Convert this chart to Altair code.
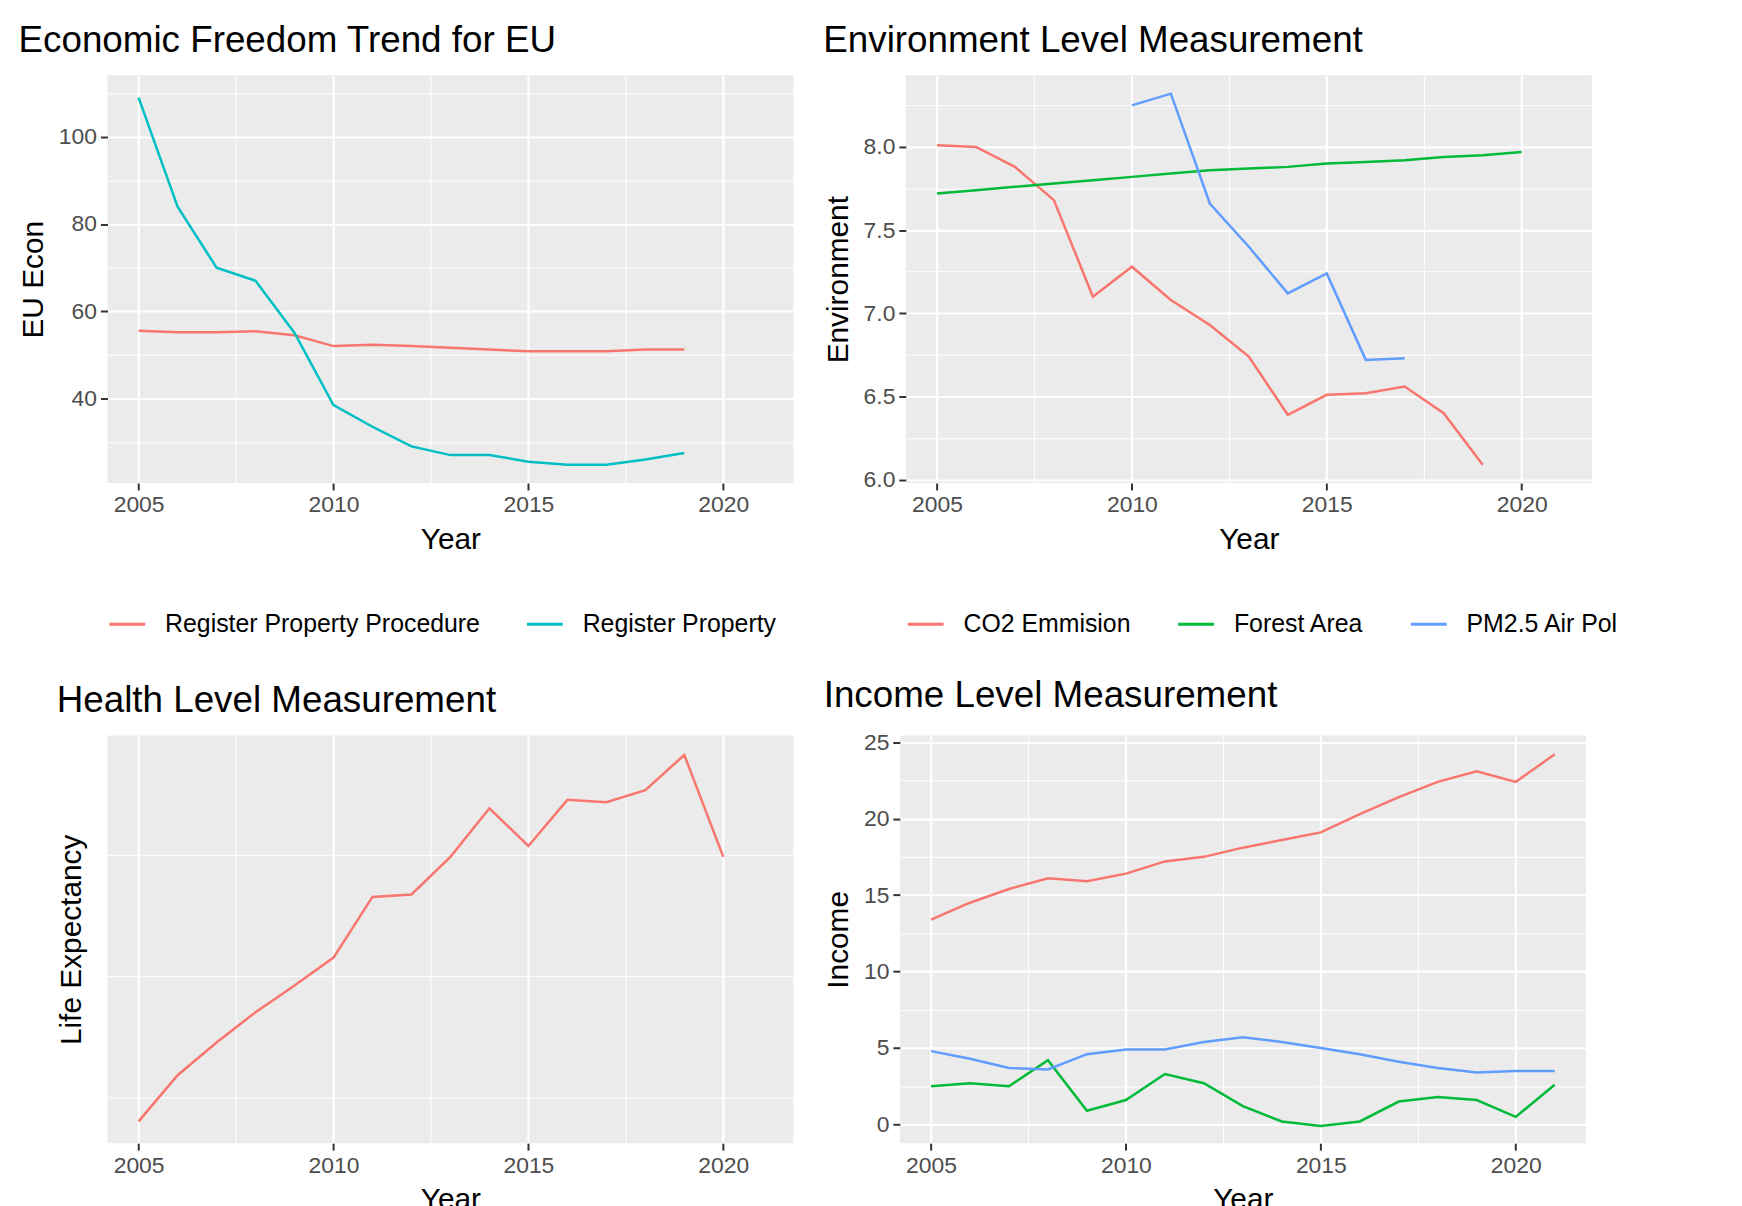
import altair as alt
import pandas as pd

# ---- data ----
years_econ = list(range(2005, 2020))
reg_procedure = [55.5, 55.2, 55.2, 55.4, 54.5, 52.0, 52.3, 52.0, 51.6, 51.2, 50.8, 50.8, 50.8, 51.2, 51.2]
reg_property = [109, 84, 70, 67, 55, 38.5, 33.5, 29, 27, 27, 25.5, 24.8, 24.8, 26, 27.5]

years_co2 = list(range(2005, 2020))
co2 = [8.01, 8.0, 7.88, 7.68, 7.1, 7.28, 7.08, 6.93, 6.74, 6.39, 6.51, 6.52, 6.56, 6.4, 6.09]
years_forest = list(range(2005, 2021))
forest = [7.72, 7.74, 7.76, 7.78, 7.80, 7.82, 7.84, 7.86, 7.87, 7.88, 7.90, 7.91, 7.92, 7.94, 7.95, 7.97]
years_pm = list(range(2010, 2018))
pm25 = [8.25, 8.32, 7.66, 7.4, 7.12, 7.24, 6.72, 6.73]

years_life = list(range(2005, 2021))
life = [78.3, 78.68, 78.95, 79.2, 79.42, 79.65, 80.15, 80.17, 80.48, 80.88, 80.57, 80.95, 80.93, 81.03, 81.32, 80.48]

years_inc = list(range(2005, 2022))
gni = [13.4, 14.5, 15.4, 16.1, 15.9, 16.4, 17.2, 17.5, 18.1, 18.6, 19.1, 20.3, 21.4, 22.4, 23.1, 22.4, 24.2]
inflation = [2.5, 2.7, 2.5, 4.2, 0.9, 1.6, 3.3, 2.7, 1.2, 0.2, -0.1, 0.2, 1.5, 1.8, 1.6, 0.5, 2.6]
unemp = [4.8, 4.3, 3.7, 3.6, 4.6, 4.9, 4.9, 5.4, 5.7, 5.4, 5.0, 4.6, 4.1, 3.7, 3.4, 3.5, 3.5]

FONT = "Liberation Sans"
W, H = 690, 410
XDOM = [2004.2, 2021.8]
XVALS = [2005, 2007.5, 2010, 2012.5, 2015, 2017.5, 2020]


def long(series):
    rows = []
    for name, xs, ys in series:
        for x, y in zip(xs, ys):
            rows.append({"Year": x, "value": y, "series": name})
    return pd.DataFrame(rows)


def panel(df, title, ytitle, ydom, yvals, majors, names, colors, fmt):
    maj = str(majors)
    x = alt.X("Year:Q", title="Year", scale=alt.Scale(domain=XDOM, nice=False, zero=False),
              axis=alt.Axis(values=XVALS, format="d",
                            labelExpr="datum.value % 5 == 0 ? datum.label : ''",
                            gridWidth={"expr": "datum.value % 5 == 0 ? 2.2 : 1"},
                            tickOpacity={"expr": "datum.value % 5 == 0 ? 1 : 0"}))
    y = alt.Y("value:Q", title=ytitle, scale=alt.Scale(domain=ydom, nice=False, zero=False),
              axis=alt.Axis(values=yvals, format=fmt,
                            labelExpr="indexof(%s, datum.value) >= 0 ? datum.label : ''" % maj,
                            gridWidth={"expr": "indexof(%s, datum.value) >= 0 ? 2.2 : 1" % maj},
                            tickOpacity={"expr": "indexof(%s, datum.value) >= 0 ? 1 : 0" % maj}))
    color = alt.Color("series:N", scale=alt.Scale(domain=names, range=colors),
                      legend=alt.Legend(title=None, orient="bottom", direction="horizontal",
                                        symbolType="stroke", symbolStrokeWidth=3, symbolSize=1300,
                                        labelFontSize=25, labelFont=FONT, labelColor="black",
                                        columnPadding=40, labelOffset=18,
                                        offset=50, labelLimit=600))
    return alt.Chart(df).mark_line(strokeWidth=2.5, clip=True).encode(
        x=x, y=y, color=color, detail="series:N"
    ).properties(width=W, height=H, title=alt.TitleParams(title, anchor="start", fontSize=37,
                                                         font=FONT, fontWeight="normal", offset=16))


c1 = panel(long([("Register Property Procedure", years_econ, reg_procedure),
                 ("Register Property", years_econ, reg_property)]),
           "Economic Freedom Trend for EU", "EU Econ", [20.6, 114.1],
           [30, 40, 50, 60, 70, 80, 90, 100, 110], [40, 60, 80, 100],
           ["Register Property Procedure", "Register Property"], ["#F8766D", "#00BFC4"], "d")
c2 = panel(long([("CO2 Emmision", years_co2, co2), ("Forest Area", years_forest, forest),
                 ("PM2.5 Air Pol", years_pm, pm25)]),
           "Environment Level Measurement", "Environment", [5.98, 8.43],
           [6.0, 6.25, 6.5, 6.75, 7.0, 7.25, 7.5, 7.75, 8.0, 8.25], [6.0, 6.5, 7.0, 7.5, 8.0],
           ["CO2 Emmision", "Forest Area", "PM2.5 Air Pol"], ["#F8766D", "#00BA38", "#619CFF"], ".1f")
c3 = panel(long([("Life Expectancy", years_life, life)]),
           "Health Level Measurement", "Life Expectancy", [78.12, 81.48],
           [78.5, 79, 79.5, 80, 80.5, 81], [79, 80, 81],
           ["Life Expectancy"], ["#F8766D"], "d")
c4 = panel(long([("GNI per Capita, Current $", years_inc, gni),
                 ("Inflation, Annual %", years_inc, inflation),
                 ("Unemp", years_inc, unemp)]),
           "Income Level Measurement", "Income", [-1.22, 25.43],
           [0, 2.5, 5, 7.5, 10, 12.5, 15, 17.5, 20, 22.5, 25], [0, 5, 10, 15, 20, 25],
           ["GNI per Capita, Current $", "Inflation, Annual %", "Unemp"],
           ["#F8766D", "#00BA38", "#619CFF"], "d")

row1 = alt.hconcat(c1, c2, spacing=30).resolve_scale(color="independent").resolve_legend(color="independent")
row2 = alt.hconcat(c3, c4, spacing=30).resolve_scale(color="independent").resolve_legend(color="independent")

chart = alt.vconcat(row1, row2, spacing=40).resolve_scale(
    color="independent").resolve_legend(color="independent").properties(
    background="white", padding={"left": 10, "right": 0, "top": 10, "bottom": 5}
).configure_view(fill="#EBEBEB", stroke=None).configure_axis(
    gridColor="white", domain=False, tickColor="#333333", tickSize=7, tickWidth=2,
    labelFont=FONT, labelFontSize=23, labelColor="#4D4D4D", labelPadding=4,
    titleFont=FONT, titleFontSize=30, titleFontWeight="normal", titleColor="black",
).configure_axisX(titlePadding=8).configure_axisY(titlePadding=10)

chart.save("out.html", embed_options={"renderer": "svg", "actions": False})
